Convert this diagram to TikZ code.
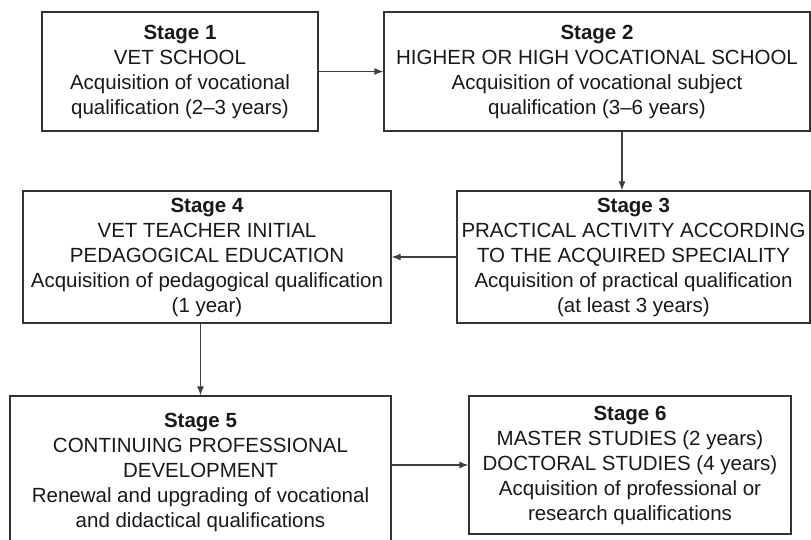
\documentclass[tikz,border=0pt]{standalone}
\usepackage{fontspec}
\setmainfont{Liberation Sans}
\usetikzlibrary{arrows.meta}
\begin{document}
\begin{tikzpicture}[x=1pt, y=-1pt,
		font=\fontsize{20.5}{25}\selectfont,
		stagebox/.style={draw=black!80, line width=1.3pt, align=center, inner sep=1pt, text=black!90},
		flow/.style={draw=black!75, line width=1.2pt, -{Latex[length=9pt,width=7pt]}}]
		\clip (0,0) rectangle (811,539);
		\fill[white] (0,0) rectangle (811,539);

		\node[stagebox, minimum width=276pt, minimum height=119pt] (s1) at (180,71.5) {\textbf{Stage 1}\\VET SCHOOL\\Acquisition of vocational\\qualification (2--3 years)};
		\node[stagebox, minimum width=426pt, minimum height=119pt] (s2) at (597,71.5) {\textbf{Stage 2}\\HIGHER OR HIGH VOCATIONAL SCHOOL\\Acquisition of vocational subject\\qualification (3--6 years)};
		\node[stagebox, minimum width=353pt, minimum height=132pt] (s3) at (633.5,257) {\textbf{Stage 3}\\PRACTICAL ACTIVITY ACCORDING\\TO THE ACQUIRED SPECIALITY\\Acquisition of practical qualification\\(at least 3 years)};
		\node[stagebox, minimum width=368pt, minimum height=132pt] (s4) at (207,257) {\textbf{Stage 4}\\VET TEACHER INITIAL\\PEDAGOGICAL EDUCATION\\Acquisition of pedagogical qualification\\(1 year)};
		\node[stagebox, minimum width=381pt, minimum height=152pt] (s5) at (200.5,472) {\textbf{Stage 5}\\CONTINUING PROFESSIONAL\\DEVELOPMENT\\Renewal and upgrading of vocational\\and didactical qualifications};
		\node[stagebox, minimum width=322pt, minimum height=138pt] (s6) at (630,465) {\textbf{Stage 6}\\MASTER STUDIES (2 years)\\DOCTORAL STUDIES (4 years)\\Acquisition of professional or\\research qualifications};

		\draw[flow] (s1.east) -- (s2.west);
		\draw[flow] ([xshift=25pt]s2.south) -- ([xshift=25pt]s2.south |- s3.north);
		\draw[flow] (s3.west) -- (s4.east);
		\draw[flow] (s4.south -| s5.north) -- (s5.north);
		\draw[flow] (s5.east |- s6.west) -- (s6.west);
	\end{tikzpicture}
\end{document}
